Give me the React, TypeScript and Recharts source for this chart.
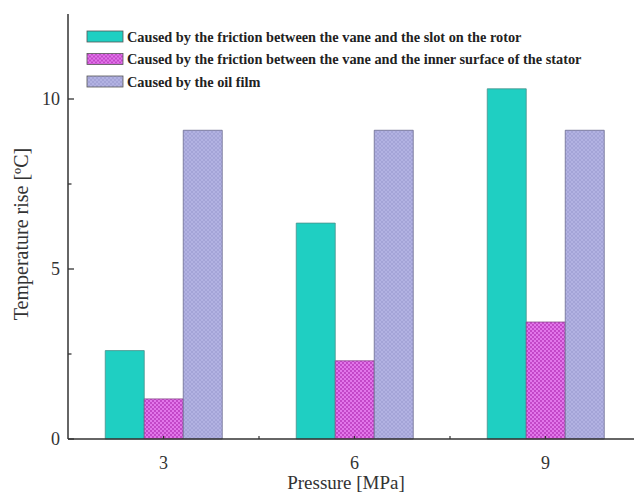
import { BarChart, Bar, XAxis, YAxis, Label } from 'recharts';

// temperature rise [°C] per source at each pressure level
const pressures = ['3', '6', '9'];
const slotFriction = [2.6, 6.35, 10.3];
const statorFriction = [1.18, 2.3, 3.44];
const oilFilm = [9.08, 9.08, 9.08];

const seriesNames = [
  'Caused by the friction between the vane and the slot on the rotor',
  'Caused by the friction between the vane and the inner surface of the stator',
  'Caused by the oil film',
];

const yTicks = [0, 2.5, 5, 7.5, 10];

const data = pressures.map((p, i) => ({
  pressure: p,
  slot: slotFriction[i],
  stator: statorFriction[i],
  oil: oilFilm[i],
}));

const serif = '"Liberation Serif", "Times New Roman", serif';
const axisColor = '#333';

const fills = ['#1fcfc2', 'url(#dotsMagenta)', 'url(#hatchLavender)'];

// tickSize/tickMargin are zero, so x sits on the axis line itself
function YTick(props: any) {
  const { x, y, payload } = props;
  const major = payload.value % 5 === 0;
  return (
    <g>
      <line x1={x} x2={x + (major ? 6 : 3.5)} y1={y} y2={y} stroke={axisColor} strokeWidth={1.3} />
      {major && (
        <text x={x - 8} y={y} dy={6} textAnchor="end" fontFamily={serif} fontSize={18} fill="#333">
          {payload.value}
        </text>
      )}
    </g>
  );
}

function XTick(props: any) {
  const { x, y, payload } = props;
  return (
    <g>
      <line x1={x} x2={x} y1={y} y2={y - 3} stroke={axisColor} strokeWidth={1.2} />
      <line x1={x + 95.5} x2={x + 95.5} y1={y} y2={y - 3} stroke={axisColor} strokeWidth={1.2} />
      <text x={x} y={y + 30} textAnchor="middle" fontFamily={serif} fontSize={18} fill="#333">
        {payload.value}
      </text>
    </g>
  );
}

function Legend() {
  return (
    <g>
      {seriesNames.map((name, i) => (
        <g key={name} transform={`translate(87, ${31 + i * 22.5})`}>
          <rect x={0} y={0} width={36} height={11} fill={fills[i]} stroke="#555" strokeWidth={0.8} />
          <text x={40} y={10.5} fontFamily={serif} fontWeight="bold" fontSize={14.3} fill="#222">
            {name}
          </text>
        </g>
      ))}
    </g>
  );
}

export default function App() {
  return (
    <div style={{ position: 'absolute', left: 0, top: 0, width: 634, height: 497, overflow: 'hidden', background: '#fff' }}>
      <BarChart
        width={650}
        height={497}
        data={data}
        margin={{ top: 14, right: 9, left: 8, bottom: 0 }}
        barCategoryGap="19.5%"
        barGap={0}
      >
        <defs>
          <pattern id="dotsMagenta" width="4" height="4" patternUnits="userSpaceOnUse">
            <rect width="4" height="4" fill="#e276ea" />
            <circle cx="1" cy="1" r="0.9" fill="#b431b8" />
            <circle cx="3" cy="3" r="0.9" fill="#b431b8" />
          </pattern>
          <pattern id="hatchLavender" width="4" height="4" patternUnits="userSpaceOnUse">
            <rect width="4" height="4" fill="#b2b2e2" />
            <path d="M0,4 L4,0 M0,0 L4,4" stroke="#9b9bd0" strokeWidth="0.6" />
          </pattern>
        </defs>
        <XAxis
          dataKey="pressure"
          height={58}
          stroke={axisColor}
          strokeWidth={1.5}
          tickLine={false}
          tickSize={0}
          tickMargin={0}
          tick={<XTick />}
          interval={0}
        >
          <Label
            content={() => (
              <text x={346} y={489} textAnchor="middle" fontFamily={serif} fontSize={19} fill="#333">
                Pressure [MPa]
              </text>
            )}
          />
        </XAxis>
        <YAxis
          width={60}
          domain={[0, 12.5]}
          ticks={yTicks}
          interval={0}
          stroke={axisColor}
          strokeWidth={1.5}
          tickLine={false}
          tickSize={0}
          tickMargin={0}
          tick={<YTick />}
        >
          <Label
            content={() => (
              <text
                x={28}
                y={234}
                transform="rotate(-90 28 234)"
                textAnchor="middle"
                fontFamily={serif}
                fontSize={20}
                fill="#333"
              >
                Temperature rise [ºC]
              </text>
            )}
          />
        </YAxis>
        <Bar dataKey="slot" fill={fills[0]} stroke="#4a8f8a" strokeWidth={0.8} isAnimationActive={false} />
        <Bar dataKey="stator" fill={fills[1]} stroke="#8a4a8c" strokeWidth={0.8} isAnimationActive={false} />
        <Bar dataKey="oil" fill={fills[2]} stroke="#6a6a8e" strokeWidth={0.8} isAnimationActive={false} />
        <Legend />
      </BarChart>
    </div>
  );
}
